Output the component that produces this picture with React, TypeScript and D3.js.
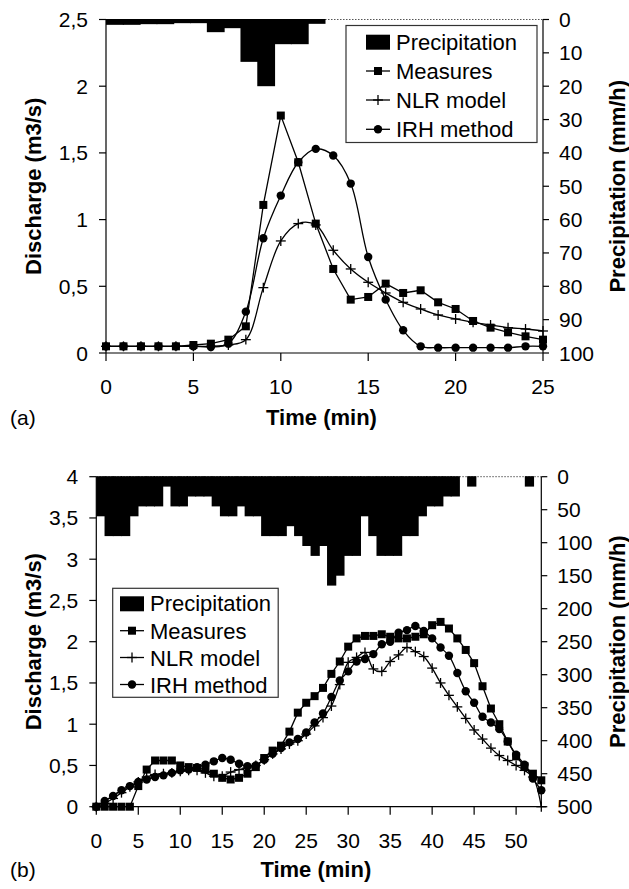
import React from 'react';
import * as d3 from 'd3';

// ---------- Panel (a) data (one value per minute, 0..25) ----------
const precipA = [1.6, 1.6, 1.4, 1.4, 1.1, 1.1, 3.8, 2.6, 12.7, 20, 7.4, 7.4, 1.3, 0, 0, 0, 0, 0, 0, 0, 0, 0, 0, 0, 0, 0];
const measuresA = [0.05, 0.05, 0.05, 0.05, 0.05, 0.06, 0.07, 0.1, 0.2, 1.11, 1.78, 1.43, 0.97, 0.63, 0.4, 0.42, 0.52, 0.45, 0.47, 0.38, 0.33, 0.24, 0.19, 0.155, 0.125, 0.1];
const nlrA = [0.05, 0.05, 0.05, 0.05, 0.05, 0.05, 0.05, 0.06, 0.1, 0.49, 0.84, 0.97, 0.96, 0.77, 0.63, 0.53, 0.45, 0.38, 0.33, 0.285, 0.255, 0.23, 0.21, 0.19, 0.18, 0.165];
const irhA = [0.05, 0.05, 0.05, 0.05, 0.05, 0.05, 0.045, 0.07, 0.31, 0.86, 1.18, 1.43, 1.53, 1.48, 1.27, 0.72, 0.4, 0.17, 0.05, 0.04, 0.04, 0.04, 0.04, 0.04, 0.05, 0.05];
const xTicksA = [0, 5, 10, 15, 20, 25];
const yTicksA = [0, 0.5, 1, 1.5, 2, 2.5];
const pTicksA = [0, 10, 20, 30, 40, 50, 60, 70, 80, 90, 100];

// ---------- Panel (b) data (one value per minute, 0..53) ----------
const precipB = [60, 90, 90, 90, 60, 45, 45, 45, 15, 45, 45, 30, 30, 30, 45, 60, 60, 45, 60, 60, 90, 90, 90, 75, 90, 105, 120, 105, 165, 150, 120, 120, 60, 90, 120, 120, 120, 90, 90, 60, 45, 45, 30, 30, 0, 15, 0, 0, 0, 0, 0, 0, 15, 0];
const measuresB = [0, 0, 0, 0, 0, 0.25, 0.45, 0.56, 0.56, 0.56, 0.5, 0.48, 0.47, 0.45, 0.4, 0.35, 0.33, 0.35, 0.4, 0.48, 0.59, 0.68, 0.74, 0.91, 1.14, 1.26, 1.34, 1.44, 1.61, 1.76, 1.94, 2.04, 2.07, 2.07, 2.09, 2.06, 2.04, 2.04, 2.06, 2.09, 2.2, 2.24, 2.16, 2.04, 1.9, 1.74, 1.46, 1.19, 1.0, 0.79, 0.61, 0.49, 0.4, 0.32];
const nlrB = [0, 0.04, 0.1, 0.17, 0.24, 0.3, 0.36, 0.39, 0.4, 0.41, 0.43, 0.44, 0.44, 0.41, 0.37, 0.37, 0.42, 0.45, 0.47, 0.5, 0.57, 0.64, 0.7, 0.76, 0.8, 0.88, 0.98, 1.08, 1.22, 1.48, 1.75, 1.81, 1.87, 1.67, 1.64, 1.76, 1.84, 1.93, 1.88, 1.82, 1.68, 1.5, 1.35, 1.21, 1.07, 0.93, 0.82, 0.71, 0.62, 0.56, 0.5, 0.44, 0.36, 0];
const irhB = [0, 0.07, 0.13, 0.2, 0.25, 0.3, 0.33, 0.36, 0.38, 0.41, 0.44, 0.45, 0.48, 0.51, 0.55, 0.59, 0.57, 0.52, 0.49, 0.5, 0.57, 0.64, 0.71, 0.78, 0.82, 0.9, 1.02, 1.13, 1.33, 1.53, 1.64, 1.76, 1.79, 1.85, 1.97, 2.0, 2.11, 2.14, 2.19, 2.13, 2.04, 1.93, 1.83, 1.62, 1.4, 1.26, 1.09, 1.02, 0.94, 0.79, 0.63, 0.51, 0.34, 0.2];
const xTicksB = [0, 5, 10, 15, 20, 25, 30, 35, 40, 45, 50];
const yTicksB = [0, 0.5, 1, 1.5, 2, 2.5, 3, 3.5, 4];
const pTicksB = [0, 50, 100, 150, 200, 250, 300, 350, 400, 450, 500];

const legendLabels = ['Precipitation', 'Measures', 'NLR model', 'IRH method'];
const xTitle = 'Time (min)';
const yTitle = 'Discharge (m3/s)';
const pTitle = 'Precipitation (mm/h)';

const FONT = "'Liberation Sans', Arial, Helvetica, sans-serif";
const fmt = (v: number) => String(v).replace('.', ',');

type Marker = 'square' | 'plus' | 'circle';

function MarkerShape({ kind, cx, cy, s }: { kind: Marker; cx: number; cy: number; s: number }) {
  if (kind === 'square') return <rect x={cx - s / 2} y={cy - s / 2} width={s} height={s} fill="#000" />;
  if (kind === 'circle') return <circle cx={cx} cy={cy} r={s / 2} fill="#000" />;
  const h = s * 0.62;
  return (
    <g stroke="#000" strokeWidth={1.3}>
      <line x1={cx - h} x2={cx + h} y1={cy} y2={cy} />
      <line x1={cx} x2={cx} y1={cy - h} y2={cy + h} />
    </g>
  );
}

interface PanelProps {
  box: { L: number; R: number; T: number; B: number };
  xMax: number; yMax: number; pMax: number;
  xTicks: number[]; yTicks: number[]; pTicks: number[];
  precip: number[]; measures: number[]; nlr: number[]; irh: number[];
  legend: { x0: number; y0: number; w: number; h: number; sx: number; tx: number; rows: number[] };
  tag: string;
  titleDy: number;
}

function Panel(p: PanelProps) {
  const { L, R, T, B } = p.box;
  const x = d3.scaleLinear().domain([0, p.xMax]).range([L, R]);
  const y = d3.scaleLinear().domain([0, p.yMax]).range([B, T]);
  const yp = d3.scaleLinear().domain([0, p.pMax]).range([T, B]);
  const band = d3.scaleBand<number>().domain(p.precip.map((_, i) => i)).range([L, R]).padding(0);
  const lin = d3.line<number>().x((_, i) => x(i)).y((d) => y(d));
  const smooth = d3.line<number>().x((_, i) => x(i)).y((d) => y(d)).curve(d3.curveCatmullRom.alpha(0.5));
  const series: { vals: number[]; kind: Marker; path: string | null }[] = [
    { vals: p.irh, kind: 'circle', path: smooth(p.irh) },
    { vals: p.nlr, kind: 'plus', path: smooth(p.nlr) },
    { vals: p.measures, kind: 'square', path: lin(p.measures) },
  ];
  const midY = (T + B) / 2;
  const lg = p.legend;
  const legendKinds: Marker[] = ['square', 'plus', 'circle'];
  return (
    <g fontFamily={FONT}>
      {/* dotted top border (under the bars) */}
      <line x1={L} x2={R} y1={T} y2={T} stroke="#555" strokeWidth={1} strokeDasharray="1.5 1.5" />
      {/* precipitation bars */}
      {p.precip.map((v, i) =>
        v > 0 ? (
          <rect key={'b' + i} x={band(i)!} y={T - 0.5} width={band.bandwidth() + 1} height={yp(v) - T + 0.5} fill="#000" />
        ) : null
      )}
      {/* series */}
      {series.map((s, si) => (
        <g key={'s' + si}>
          <path d={s.path || ''} fill="none" stroke="#000" strokeWidth={1.3} />
          {s.vals.map((v, i) => (
            <MarkerShape key={i} kind={s.kind} cx={x(i)} cy={y(v)} s={s.kind === 'circle' ? 8.4 : 8} />
          ))}
        </g>
      ))}
      {/* axes */}
      <g stroke="#000" strokeWidth={1.2}>
        <line x1={L} x2={L} y1={T} y2={B} />
        <line x1={R} x2={R} y1={T} y2={B} />
        <line x1={L} x2={R} y1={B} y2={B} />
        {p.yTicks.map((t) => <line key={'yt' + t} x1={L - 7} x2={L} y1={y(t)} y2={y(t)} />)}
        {p.pTicks.map((t) => <line key={'pt' + t} x1={R} x2={R + 6} y1={yp(t)} y2={yp(t)} />)}
        {p.xTicks.map((t) => <line key={'xt' + t} x1={x(t)} x2={x(t)} y1={B} y2={B + 8} />)}
      </g>
      <g fontSize={21} fill="#000">
        {p.yTicks.map((t) => (
          <text key={'yl' + t} x={L - 18} y={y(t) + 7.5} textAnchor="end">{fmt(t)}</text>
        ))}
        {p.pTicks.map((t) => (
          <text key={'pl' + t} x={R + 16} y={yp(t) + 7.5} textAnchor="start">{fmt(t)}</text>
        ))}
        {p.xTicks.map((t) => (
          <text key={'xl' + t} x={x(t)} y={B + 41} textAnchor="middle">{fmt(t)}</text>
        ))}
      </g>
      {/* titles */}
      <text x={(L + R) / 2 - 3} y={B + p.titleDy} textAnchor="middle" fontWeight="bold" fontSize={22}>{xTitle}</text>
      <text x={10} y={B + p.titleDy} fontSize={21}>{p.tag}</text>
      <text transform={`translate(41,${midY}) rotate(-90)`} textAnchor="middle" fontWeight="bold" fontSize={22}>{yTitle}</text>
      <text transform={`translate(625,${midY}) rotate(-90)`} textAnchor="middle" fontWeight="bold" fontSize={22}>{pTitle}</text>
      {/* legend */}
      <g>
        <rect x={lg.x0} y={lg.y0} width={lg.w} height={lg.h} fill="#fff" stroke="#333" strokeWidth={1.2} />
        <rect x={lg.sx - 12} y={lg.rows[0] - 7} width={24} height={15} fill="#000" />
        {legendKinds.map((k, i) => (
          <g key={'lg' + i}>
            <line x1={lg.sx - 12} x2={lg.sx + 12} y1={lg.rows[i + 1]} y2={lg.rows[i + 1]} stroke="#000" strokeWidth={1.3} />
            <MarkerShape kind={k} cx={lg.sx} cy={lg.rows[i + 1]} s={k === 'circle' ? 8.4 : 8} />
          </g>
        ))}
        {legendLabels.map((t, i) => (
          <text key={'lt' + i} x={lg.tx} y={lg.rows[i] + 8} fontSize={22}>{t}</text>
        ))}
      </g>
    </g>
  );
}

export default function App() {
  return (
    <svg width={629} height={889} style={{ position: 'absolute', left: 0, top: 0, background: '#fff' }}>
      <rect x={0} y={0} width={629} height={889} fill="#fff" />
      <Panel
        box={{ L: 106, R: 543, T: 19.5, B: 353 }}
        xMax={25} yMax={2.5} pMax={100}
        xTicks={xTicksA} yTicks={yTicksA} pTicks={pTicksA}
        precip={precipA} measures={measuresA} nlr={nlrA} irh={irhA}
        legend={{ x0: 346, y0: 25.5, w: 191, h: 117, sx: 378, tx: 396, rows: [41.7, 71, 100, 129.3] }}
        tag="(a)" titleDy={72}
      />
      <Panel
        box={{ L: 96.3, R: 541.3, T: 476.7, B: 806.7 }}
        xMax={53} yMax={4} pMax={500}
        xTicks={xTicksB} yTicks={yTicksB} pTicks={pTicksB}
        precip={precipB} measures={measuresB} nlr={nlrB} irh={irhB}
        legend={{ x0: 112.7, y0: 588.3, w: 165.5, h: 109, sx: 132, tx: 150, rows: [603.3, 630.7, 657.5, 684.5] }}
        tag="(b)" titleDy={70}
      />
    </svg>
  );
}
